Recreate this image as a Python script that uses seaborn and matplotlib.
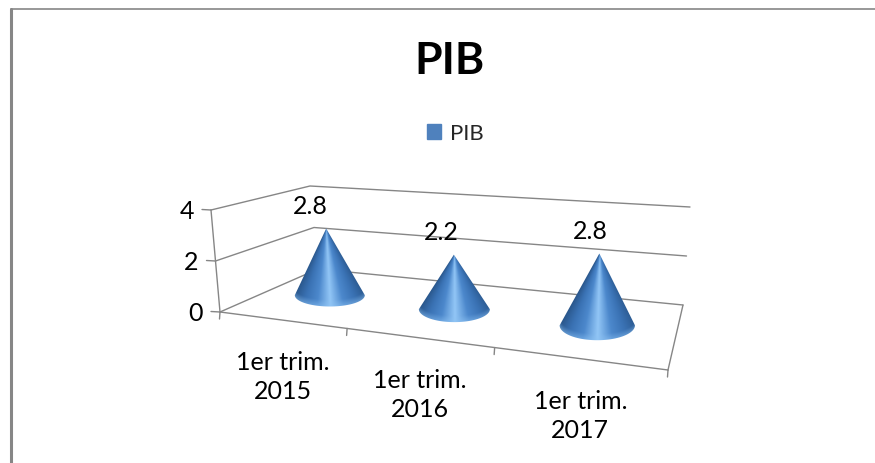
import numpy as np
import pandas as pd
import matplotlib
matplotlib.use("Agg")
import matplotlib.pyplot as plt
from matplotlib.patches import Patch, Polygon
import seaborn as sns

sns.set_theme(style="white")
plt.rcParams["font.family"] = ["Lato", "DejaVu Sans"]

title = "PIB"
series_name = "PIB"
categories = ["1er trim.\n2015", "1er trim.\n2016", "1er trim.\n2017"]
values = [2.8, 2.2, 2.8]
value_labels = ["2.8", "2.2", "2.8"]
value_ticks = [0, 2, 4]

GREY = "#868686"
cone_cmap = sns.blend_palette(["#2a578c", "#3a72b4", "#4c88cc", "#92c6f6", "#4c88cc", "#3a72b4", "#2c5b92"], as_cmap=True)

# box corners on screen: front-left, front-right, back-right, back-left
floor_src = np.array([[0, 0], [1, 0], [1, 1], [0, 1]], float)
floor_dst = np.array([[220, 313], [668, 371], [683, 306], [318, 270]], float)
# screen pixels per unit of value at the same corners, vertical and sideways lean
unit_px = np.array([25.5, 27.0, 24.5, 20.75])
lean_px = np.array([-2.25, 1.0, 1.75, -2.0])


def homography(src, dst):
    rows, rhs = [], []
    for (a, b), (x, y) in zip(src, dst):
        rows.append([a, b, 1, 0, 0, 0, -a * x, -b * x])
        rows.append([0, 0, 0, a, b, 1, -a * y, -b * y])
        rhs += [x, y]
    return np.append(np.linalg.solve(np.array(rows), np.array(rhs)), 1).reshape(3, 3)


H = homography(floor_src, floor_dst)


def corner_mix(c, u, d):
    return (1 - u) * (1 - d) * c[0] + u * (1 - d) * c[1] + u * d * c[2] + (1 - u) * d * c[3]


def project(u, d, v=0.0):
    u, d = np.asarray(u, float), np.asarray(d, float)
    w = H[2, 0] * u + H[2, 1] * d + 1
    x = (H[0, 0] * u + H[0, 1] * d + H[0, 2]) / w
    y = (H[1, 0] * u + H[1, 1] * d + H[1, 2]) / w
    return x + np.asarray(v) * corner_mix(lean_px, u, d), y - np.asarray(v) * corner_mix(unit_px, u, d)


def line(ax, xs, ys):
    df = pd.DataFrame({"x": xs, "y": ys})
    sns.lineplot(data=df, x="x", y="y", sort=False, estimator=None, color=GREY, lw=1.0, ax=ax, zorder=2)


fig, ax = plt.subplots(figsize=(8.75, 4.64), dpi=100)
fig.subplots_adjust(0, 0, 1, 1)

# outer chart frame
sns.lineplot(x=[10.5, 10.5], y=[464, 9.5], color=GREY, lw=2.2, ax=ax, sort=False, estimator=None)
sns.lineplot(x=[10.5, 875], y=[9.5, 9.5], color=GREY, lw=1.2, ax=ax, sort=False, estimator=None)

# walls and floor
top = max(value_ticks)
for v in value_ticks:
    x0, y0 = project(0, 0, v)
    x1, y1 = project(0, 1, v)
    x2, y2 = project(1, 1, v)
    line(ax, [x0 - 9, x0], [y0 - 0.5, y0])
    line(ax, [x0, x1, x2], [y0, y1, y2])
    ax.text(x0 - 17, y0 + 0.5, str(v), ha="right", va="center", fontsize=18, color="black")
x0, y0 = project(0, 0, 0)
x1, y1 = project(0, 0, top)
line(ax, [x0, x1], [y0, y1])

# front edge, side edge and category ticks
n = len(categories)
edge = [project(i / n, 0) for i in range(n + 1)]
line(ax, [edge[0][0], edge[-1][0]], [edge[0][1], edge[-1][1]])
xb, yb = project(1, 1)
line(ax, [edge[-1][0], xb], [edge[-1][1], yb])
for ex, ey in edge:
    line(ax, [ex, ex - 0.5], [ey, ey + 7])
for i, cat in enumerate(categories):
    mx = (edge[i][0] + edge[i + 1][0]) / 2
    my = (edge[i][1] + edge[i + 1][1]) / 2
    ax.text(mx - 1, my + 56, cat, ha="center", va="center", fontsize=18, color="black", linespacing=1.33)

# cones
for i, (val, lab) in enumerate(zip(values, value_labels)):
    uc = (i + 0.5) / n
    t = np.linspace(0, 2 * np.pi, 80)
    cx, cy = project(uc + 0.08 * np.cos(t), 0.5 + 0.24 * np.sin(t))
    ex, ey = (cx.min() + cx.max()) / 2, (cy.min() + cy.max()) / 2
    a, b = (cx.max() - cx.min()) / 2, (cy.max() - cy.min()) / 2
    apex_x, apex_y = project(uc, 0.5, val)

    tt = np.linspace(0, np.pi, 60)
    outline = np.column_stack([np.r_[apex_x, ex + a * np.cos(tt)], np.r_[apex_y, ey + b * np.sin(tt)]])

    gx, gy = np.meshgrid(np.linspace(ex - a - 4, ex + a + 4, 240), np.linspace(apex_y - 2, ey + b + 2, 240))
    frac = np.clip((gy - apex_y) / (ey - apex_y), 0.02, None)
    pos = np.clip((gx - (apex_x + (ex - apex_x) * frac)) / (a * frac), -1, 1)
    rgba = cone_cmap((pos + 1) / 2)
    # light rim along the base
    below = np.sqrt(np.clip(1 - ((gx - ex) / a) ** 2, 0, 1)) * b + ey
    rim = np.clip(1 - (below - gy) / 6, 0, 1) * (gy > ey - b)
    rgba[..., :3] = rgba[..., :3] * (1 - 0.45 * rim[..., None]) + np.array([0.55, 0.76, 0.95]) * 0.45 * rim[..., None]
    im = ax.imshow(rgba, extent=[gx.min(), gx.max(), gy.max(), gy.min()], aspect="auto", zorder=3, interpolation="bilinear")
    im.set_clip_path(Polygon(outline, closed=True, transform=ax.transData))

    ax.text(apex_x - 17.5 + 10 * uc, apex_y - 23.5, lab, ha="center", va="center", fontsize=18, color="black", zorder=4)

ax.set_xlim(0, 875)
ax.set_ylim(464, 0)
ax.axis("off")

ax.text(449, 61.5, title, ha="center", va="center", fontsize=32, fontweight="bold", color="black")
ax.legend(handles=[Patch(facecolor="#4f81bd", edgecolor="#4f81bd", label=series_name)],
          loc="center", bbox_to_anchor=(455, 134.5), bbox_transform=ax.transData, frameon=False,
          fontsize=16, handlelength=0.63, handleheight=0.63, handletextpad=0.4)

fig.savefig("out.png", dpi=100)
